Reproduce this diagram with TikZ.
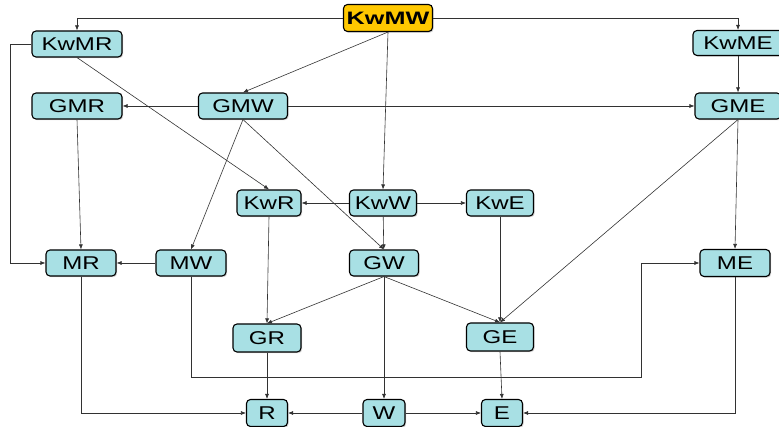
\documentclass[tikz,border=0pt]{standalone}
\usepackage{fontspec}
\setmainfont{Liberation Sans}
\newfontfamily\boxfont[FakeStretch=1.3]{Liberation Sans}
\newfontfamily\boxfontb[FakeStretch=1.4]{Liberation Sans}
\usetikzlibrary{arrows.meta,shadows}
\definecolor{boxfill}{RGB}{168,224,228}
\definecolor{topfill}{RGB}{255,200,0}
\definecolor{edgecol}{RGB}{50,50,50}
\tikzset{
  box/.style={draw=black, line width=1.1pt, rounded corners=4pt, fill=boxfill,
    minimum height=26pt, inner sep=0pt, font=\boxfont\fontsize{18.5}{20}\selectfont,
    drop shadow={shadow xshift=1.2pt, shadow yshift=-1.2pt, opacity=0.35}},
  topbox/.style={box, fill=topfill, font=\boxfontb\bfseries\fontsize{18}{20}\selectfont},
  arr/.style={draw=edgecol, line width=0.6pt, -{Latex[length=5pt,width=4pt]}}
}
\begin{document}
\begin{tikzpicture}[x=1pt,y=-1pt]
\useasboundingbox (0,0) rectangle (779,427);
% nodes
\node[topbox, minimum width=89pt, minimum height=27pt] (KwMW) at (388,18) {KwMW};
\node[box, minimum width=90pt] (KwMR) at (77,44) {KwMR};
\node[box, minimum width=90pt, minimum height=25pt] (KwME) at (738,43) {KwME};
\node[box, minimum width=90pt] (GMR) at (77,106) {GMR};
\node[box, minimum width=89pt] (GMW) at (243,106) {GMW};
\node[box, minimum width=86pt] (GME) at (738,106) {GME};
\node[box, minimum width=64pt] (KwR) at (269,203) {KwR};
\node[box, minimum width=67pt] (KwW) at (383,203) {KwW};
\node[box, minimum width=67pt] (KwE) at (500,203) {KwE};
\node[box, minimum width=70pt] (MR) at (81,263) {MR};
\node[box, minimum width=70pt] (MW) at (191,263) {MW};
\node[box, minimum width=69pt] (GW) at (384,263) {GW};
\node[box, minimum width=70pt, minimum height=27pt] (ME) at (735,263) {ME};
\node[box, minimum width=68pt, minimum height=28pt] (GR) at (267,338) {GR};
\node[box, minimum width=67pt, minimum height=28pt] (GE) at (500,337) {GE};
\node[box, minimum width=41pt, minimum height=27pt] (R) at (267,413) {R};
\node[box, minimum width=42pt, minimum height=27pt] (W) at (384,413) {W};
\node[box, minimum width=41pt, minimum height=27pt] (E) at (502,413) {E};
\coordinate (c1) at (641,377);
% edges
\draw[arr] (KwMW.west) -| (KwMR.north);
\draw[arr] (KwMW.east) -| (KwME.north);
\draw[arr] (KwMW.south) -- (GMW.north);
\draw[arr] (KwMW.south) -- (KwW.north);
\draw[arr] (KwME) -- (GME);
\draw[arr] (KwMR.west) -- ++(-21,0) |- (MR.west);
\draw[arr] (KwMR.south) -- (KwR.north);
\draw[arr] (GMW) -- (GMR);
\draw[arr] (GMW) -- (GME);
\draw[arr] (GMW.south) -- (MW.north);
\draw[arr] (GMW.south) -- (GW.north);
\draw[arr] (GMR.south) -- (MR.north);
\draw[arr] (GME.south) -- (ME.north);
\draw[arr] (GME.south) -- (GE.north);
\draw[arr] (KwW) -- (KwR);
\draw[arr] (KwW) -- (KwE);
\draw[arr] (KwW) -- (GW);
\draw[arr] (KwR.south) -- (GR.north);
\draw[arr] (KwE) -- (GE);
\draw[arr] (MW) -- (MR);
\draw[arr] (MW.south) |- (c1) |- (ME.west);
\draw[arr] (GW.south) -- (GR.north);
\draw[arr] (GW.south) -- (GE.north);
\draw[arr] (GW) -- (W);
\draw[arr] (MR.south) |- (R.west);
\draw[arr] (GR) -- (R);
\draw[arr] (W) -- (R);
\draw[arr] (W) -- (E);
\draw[arr] (GE.south) -- (E.north);
\draw[arr] (ME.south) |- (E.east);
\end{tikzpicture}
\end{document}
